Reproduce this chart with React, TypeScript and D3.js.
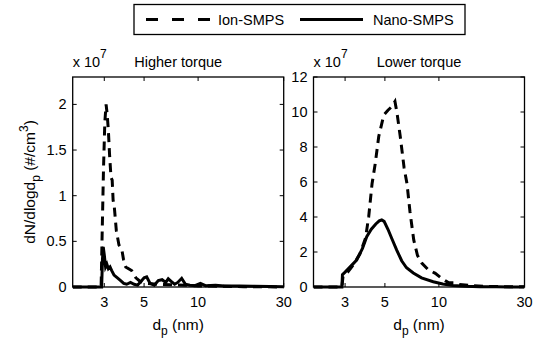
import React from "react";
import * as d3 from "d3";

const xTicks = [3, 5, 10, 30];
const xDomain: [number, number] = [2, 30];

const highTicks = [0, 0.5, 1, 1.5, 2];
const highTickLabels = ["0", "0.5", "1", "1.5", "2"];
const highMax = 2.3;
const lowTicks = [0, 2, 4, 6, 8, 10, 12];
const lowTickLabels = ["0", "2", "4", "6", "8", "10", "12"];
const lowMax = 12;

const highIonD = [2.0, 2.88, 2.92, 2.97, 3.02, 3.07, 3.11, 3.16, 3.21, 3.27, 3.32, 3.36, 3.41, 3.5, 3.62, 3.75, 3.84, 3.95, 4.1, 4.26, 4.5, 4.76, 5.2, 6, 7, 8.5, 10, 13, 18, 30];
const highIonV = [0, 0, 0.6, 1.3, 1.8, 2.0, 1.9, 1.72, 1.45, 1.2, 1.17, 0.95, 0.88, 0.62, 0.46, 0.42, 0.3, 0.22, 0.2, 0.18, 0.1, 0.06, 0.04, 0.03, 0.025, 0.02, 0.012, 0.008, 0.004, 0];

const highNanoD = [2.0, 2.9, 2.93, 2.96, 3.0, 3.05, 3.1, 3.16, 3.23, 3.3, 3.4, 3.55, 3.7, 3.85, 4.0, 4.2, 4.4, 4.6, 4.8, 5.0, 5.17, 5.4, 5.7, 6.0, 6.3, 6.6, 6.82, 7.1, 7.4, 7.7, 8.1, 8.5, 9.0, 9.6, 10.3, 11, 12.5, 14, 17, 20, 25, 30];
const highNanoV = [0, 0, 0.3, 0.44, 0.35, 0.22, 0.25, 0.2, 0.22, 0.18, 0.13, 0.1, 0.07, 0.04, 0.03, 0.05, 0.03, 0.02, 0.06, 0.1, 0.11, 0.04, 0.02, 0.07, 0.08, 0.05, 0.09, 0.06, 0.03, 0.05, 0.095, 0.03, 0.02, 0.015, 0.04, 0.015, 0.02, 0.01, 0.012, 0.008, 0.005, 0.003];

const lowIonD = [2.0, 2.88, 2.92, 3.1, 3.3, 3.63, 3.9, 4.06, 4.24, 4.42, 4.62, 4.93, 5.2, 5.45, 5.69, 5.85, 6.09, 6.4, 6.64, 6.9, 7.24, 7.6, 8.05, 8.7, 9.55, 10.5, 11.3, 12.1, 13, 15, 18, 22, 30];
const lowIonV = [0, 0, 0.6, 0.85, 1.2, 1.9, 2.8, 4.0, 5.9, 7.07, 8.6, 9.83, 10.1, 10.3, 10.6, 9.9, 8.6, 6.8, 5.9, 4.3, 2.69, 1.8, 1.35, 1.0, 0.78, 0.45, 0.25, 0.25, 0.15, 0.08, 0.04, 0.02, 0.01];

const lowNanoD = [2.0, 2.88, 2.9, 3.0, 3.2, 3.48, 3.75, 3.96, 4.2, 4.45, 4.65, 4.8, 4.95, 5.2, 5.5, 5.82, 6.2, 6.6, 7.2, 8.0, 9.3, 10.5, 12, 14, 17, 21, 30];
const lowNanoV = [0, 0, 0.7, 0.85, 1.15, 1.54, 2.2, 2.87, 3.3, 3.6, 3.78, 3.83, 3.75, 3.3, 2.7, 2.11, 1.5, 1.1, 0.8, 0.52, 0.3, 0.17, 0.09, 0.04, 0.02, 0.008, 0];

const FONT = "'Liberation Sans', Arial, Helvetica, sans-serif";
const FS = 14.5;
const DASH = "9,6";

type PanelProps = {
  left: number;
  title: string;
  yMax: number;
  yTicks: number[];
  yLabels: string[];
  ion: [number[], number[]];
  nano: [number[], number[]];
};

const TOP = 77;
const BOTTOM = 287;
const W = 211;

function Panel({ left, title, yMax, yTicks, yLabels, ion, nano }: PanelProps) {
  const x = d3.scaleLog().domain(xDomain).range([left, left + W]);
  const y = d3.scaleLinear().domain([0, yMax]).range([BOTTOM, TOP]);
  const line = d3
    .line<[number, number]>()
    .x((d) => x(d[0]))
    .y((d) => y(d[1]));
  const ionPts = ion[0].map((d, i) => [d, ion[1][i]] as [number, number]);
  const nanoPts = nano[0].map((d, i) => [d, nano[1][i]] as [number, number]);
  const tl = 4;
  const cx = left + W / 2;
  return (
    <g>
      <defs>
        <clipPath id={"clip" + left}>
          <rect x={left} y={TOP - 2} width={W} height={BOTTOM - TOP + 4} />
        </clipPath>
      </defs>
      <g clipPath={`url(#clip${left})`}>
        <path d={line(ionPts) || ""} fill="none" stroke="#000" strokeWidth={3} strokeDasharray={DASH} />
        <path d={line(nanoPts) || ""} fill="none" stroke="#000" strokeWidth={3} />
      </g>
      <rect x={left} y={TOP} width={W} height={BOTTOM - TOP} fill="none" stroke="#000" strokeWidth={1.3} />
      {xTicks.map((t) => (
        <g key={"x" + t}>
          <line x1={x(t)} x2={x(t)} y1={BOTTOM} y2={BOTTOM - tl} stroke="#000" />
          <line x1={x(t)} x2={x(t)} y1={TOP} y2={TOP + tl} stroke="#000" />
          <text x={x(t)} y={307} textAnchor="middle" fontSize={FS} fontFamily={FONT}>
            {t}
          </text>
        </g>
      ))}
      {yTicks.map((t, i) => (
        <g key={"y" + t}>
          <line x1={left} x2={left + tl} y1={y(t)} y2={y(t)} stroke="#000" />
          <line x1={left + W} x2={left + W - tl} y1={y(t)} y2={y(t)} stroke="#000" />
          <text x={left - 6} y={y(t) + 5} textAnchor="end" fontSize={FS} fontFamily={FONT}>
            {yLabels[i]}
          </text>
        </g>
      ))}
      <text x={left} y={67} fontSize={FS} fontFamily={FONT}>
        x 10
        <tspan dy={-9} fontSize={12}>7</tspan>
      </text>
      <text x={cx} y={67} textAnchor="middle" fontSize={FS} fontFamily={FONT}>
        {title}
      </text>
      <text x={cx} y={330} textAnchor="middle" fontSize={FS + 1} fontFamily={FONT}>
        d
        <tspan dy={5} fontSize={12}>p</tspan>
        <tspan dy={-5}> (nm)</tspan>
      </text>
    </g>
  );
}

export default function App() {
  return (
    <svg width={544} height={340} style={{ position: "absolute", left: 0, top: 0, background: "#fff" }}>
      <rect x={0} y={0} width={544} height={340} fill="#fff" />
      <Panel
        left={72.7}
        title="Higher torque"
        yMax={highMax}
        yTicks={highTicks}
        yLabels={highTickLabels}
        ion={[highIonD, highIonV]}
        nano={[highNanoD, highNanoV]}
      />
      <Panel
        left={313.5}
        title="Lower torque"
        yMax={lowMax}
        yTicks={lowTicks}
        yLabels={lowTickLabels}
        ion={[lowIonD, lowIonV]}
        nano={[lowNanoD, lowNanoV]}
      />
      <text
        transform={`translate(35,182) rotate(-90)`}
        textAnchor="middle"
        fontSize={FS + 1}
        fontFamily={FONT}
      >
        dN/dlogd
        <tspan dy={5} fontSize={12}>p</tspan>
        <tspan dy={-5}> (#/cm</tspan>
        <tspan dy={-7} fontSize={12}>3</tspan>
        <tspan dy={7}>)</tspan>
      </text>
      <g>
        <rect x={134} y={4.5} width={331} height={30} fill="#fff" stroke="#000" strokeWidth={1.3} />
        <line x1={146} x2={210} y1={19.5} y2={19.5} stroke="#000" strokeWidth={3} strokeDasharray="12,14" />
        <text x={218} y={24.5} fontSize={FS} fontFamily={FONT}>Ion-SMPS</text>
        <line x1={300} x2={363} y1={19.5} y2={19.5} stroke="#000" strokeWidth={3} />
        <text x={373} y={24.5} fontSize={FS} fontFamily={FONT}>Nano-SMPS</text>
      </g>
    </svg>
  );
}
